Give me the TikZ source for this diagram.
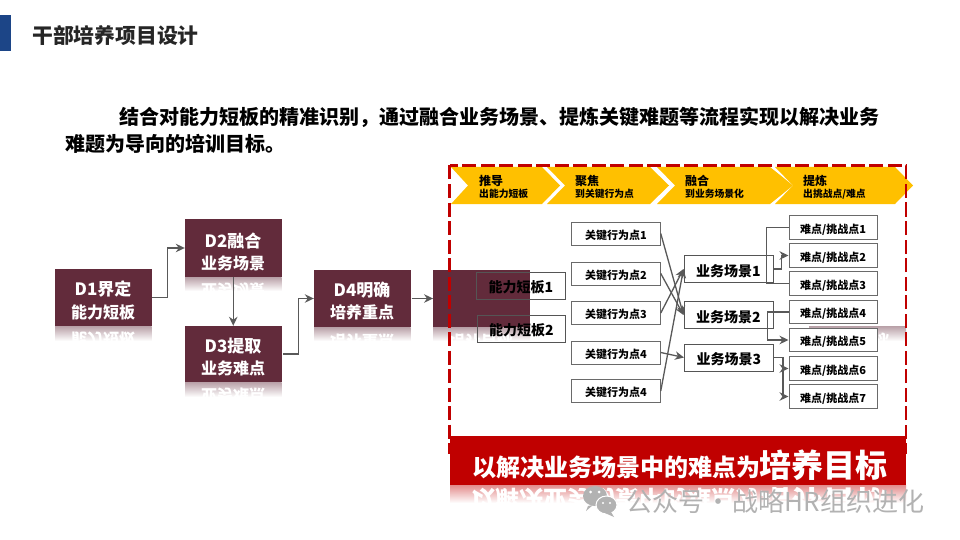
\documentclass[tikz,border=0pt]{standalone}
\usepackage{fontspec}
\setmainfont{Noto Sans CJK SC}
\usetikzlibrary{arrows.meta}
\definecolor{maroon}{HTML}{622B3B}
\definecolor{chev}{HTML}{FFC000}
\definecolor{redd}{HTML}{C00000}
\definecolor{linegray}{HTML}{595959}
\definecolor{boxgray}{HTML}{6A6A6A}
\definecolor{navy}{HTML}{1C4587}
\definecolor{wmgray}{HTML}{B2B2B2}
\newcommand{\fsz}[1]{\fontsize{#1}{#1}\selectfont}
% reflected strip: name, x0, y0, x1, y1, top colour, text centre x, text centre y, text
\newcommand{\reflstrip}[9]{%
  \begin{scope}
    \clip (#2,#3) rectangle (#4,#5);
    \shade[top color=#6, bottom color=white] (#2,#3) rectangle (#4,#5);
    \node[mirrortext] (#1) at (#7,#8) {\scalebox{1}[-1]{#9}};
  \end{scope}}
\tikzset{
  mirrortext/.style={inner sep=0pt,text=white,font=\bfseries},
  dbox/.style={fill=maroon,draw=none,inner sep=0pt,minimum width=96.5pt,text=white,align=center},
  kbox/.style={draw=boxgray,line width=1pt,fill=white,inner sep=0pt,minimum width=88.5pt,minimum height=23pt,text height=11.4pt,text depth=0pt,font=\fsz{11}\bfseries},
  nbox/.style={draw=boxgray,line width=1pt,fill=white,inner sep=0pt,minimum width=88pt,minimum height=23.5pt,text height=11.4pt,text depth=0pt,font=\fsz{11}\bfseries},
  sbox/.style={draw=boxgray!80!black,line width=1pt,fill=white,inner sep=0pt,minimum width=89pt,minimum height=27pt,text height=14.6pt,text depth=0pt,font=\fsz{14}\bfseries},
  abox/.style={draw=boxgray!80!black,line width=1pt,inner sep=0pt,minimum width=88.5pt,minimum height=27pt,text height=14.6pt,text depth=0pt,font=\fsz{14}\bfseries},
  conn/.style={draw=linegray,line width=1.3pt,-{Stealth[length=9pt,width=8.5pt]}},
  plainconn/.style={draw=linegray,line width=1.3pt},
  chevron/.style={fill=chev,draw=none},
  chevhead/.style={anchor=west,inner sep=0pt,font=\fsz{12}\bfseries},
  chevsub/.style={anchor=west,inner sep=0pt,font=\fsz{9.8}\bfseries},
  dhead/.style={inner sep=0pt,text=white,font=\fsz{17}\bfseries},
  dsub/.style={inner sep=0pt,text=white,font=\fsz{16}\bfseries},
}
\begin{document}
\begin{tikzpicture}[x=1pt,y=-1pt]
\useasboundingbox (0,0) rectangle (960,540);
\fill[white] (0,0) rectangle (960,540);

% title
\fill[navy] (0,15) rectangle (11,51);
\node[anchor=west,inner sep=0pt,font=\fsz{20.8}\bfseries,text=black!85] (title) at (32,36) {干部培养项目设计};

% paragraph
\node[anchor=west,inner sep=0pt,font=\fsz{20}\bfseries] (para1) at (119,117) {结合对能力短板的精准识别，通过融合业务场景、提炼关键难题等流程实现以解决业务};
\node[anchor=west,inner sep=0pt,font=\fsz{20}\bfseries] (para2) at (65,144) {难题为导向的培训目标。};

% reflections
\reflstrip{rd1}{55}{326}{151.5}{341}{maroon!45}{103}{340}{\fsz{16}能力短板}
\reflstrip{rd2}{185}{277}{281.5}{291}{maroon!45}{233}{291}{\fsz{16}业务场景}
\reflstrip{rd3}{185}{382}{281.5}{397}{maroon!45}{233}{396}{\fsz{16}业务难点}
\reflstrip{rd4}{314}{327}{410.5}{341}{maroon!45}{362}{342}{\fsz{16}培养重点}
\reflstrip{rd5}{433}{327}{530}{341}{maroon!45}{481}{342}{\fsz{16}培养目标}
\reflstrip{rd6}{809}{326}{906}{341}{maroon!45}{857}{341}{\fsz{16}培养目标}

% D boxes
\node[dbox,minimum height=57pt] (d1) at (103.25,297.5) {};
\node[dbox,minimum height=58pt] (d2) at (233.25,248) {};
\node[dbox,minimum height=56pt] (d3) at (233.25,354) {};
\node[dbox,minimum height=57pt] (d4) at (362.25,298.5) {};
\node[dbox,minimum height=57pt] (d5) at (481.5,298.5) {};
\node[dhead] (d1a) at (103,289) {D1界定};
\node[dsub] (d1b) at (103,312) {能力短板};
\node[dhead] (d2a) at (233,241) {D2融合};
\node[dsub] (d2b) at (233,263) {业务场景};
\node[dhead] (d3a) at (233,346) {D3提取};
\node[dsub] (d3b) at (233,368) {业务难点};
\node[dhead] (d4a) at (362,290) {D4明确};
\node[dsub] (d4b) at (362,312) {培养重点};

% D connectors
\draw[conn] (d1.east) -- ++(16,0) |- (d2.west);
\draw[conn] (d2.south) -- (d3.north);
\draw[conn] (d3.east) ++(1.5,0) -- ++(15,0) |- (d4.west);
\draw[conn] (d4.east) ++(1,0) -- (d5.west);

% chevrons
\fill[chevron] (451,167) -- (542,167) -- (560,185.5) -- (542,204) -- (451,204) -- (468,185.5) -- cycle;
\fill[chevron] (547,167) -- (650,167) -- (669,185.5) -- (650,204) -- (547,204) -- (565,185.5) -- cycle;
\fill[chevron] (657,167) -- (770,167) -- (793,185.5) -- (770,204) -- (657,204) -- (675,185.5) -- cycle;
\fill[chevron] (775,167) -- (895,167) -- (913,185.5) -- (895,204) -- (775,204) -- (793,185.5) -- cycle;

% dashed frame
\draw[redd,line width=2.4pt,dash pattern=on 14pt off 4.5pt] (449.5,165.5) rectangle (906,453);

% chevron text
\node[chevhead] (c1a) at (479,181) {推导};
\node[chevsub]  (c1b) at (479,194) {出能力短板};
\node[chevhead] (c2a) at (575,181) {聚焦};
\node[chevsub]  (c2b) at (575,194) {到关键行为点};
\node[chevhead] (c3a) at (685,181) {融合};
\node[chevsub]  (c3b) at (685,194) {到业务场景化};
\node[chevhead] (c4a) at (803,181) {提炼};
\node[chevsub]  (c4b) at (803,194) {出挑战点/难点};

% ability boxes
\node[abox] (a1) at (521,285.5) {能力短板1};
\node[abox] (a2) at (521.5,328.5) {能力短板2};

% behaviour boxes
\node[kbox] (k1) at (616,233.5) {关键行为点1};
\node[kbox] (k2) at (616,273.5) {关键行为点2};
\node[kbox] (k3) at (616,313) {关键行为点3};
\node[kbox] (k4) at (616,352.5) {关键行为点4};
\node[kbox] (k5) at (616,391) {关键行为点4};

% scene boxes
\node[sbox] (s1) at (728.5,269) {业务场景1};
\node[sbox] (s2) at (728.5,315) {业务场景2};
\node[sbox] (s3) at (729,357.5) {业务场景3};

% challenge boxes
\node[nbox] (n1) at (833,227.5) {难点/挑战点1};
\node[nbox] (n2) at (833,255.5) {难点/挑战点2};
\node[nbox] (n3) at (833,283.5) {难点/挑战点3};
\node[nbox] (n4) at (833,312) {难点/挑战点4};
\node[nbox] (n5) at (833,340) {难点/挑战点5};
\node[nbox] (n6) at (833,368.5) {难点/挑战点6};
\node[nbox] (n7) at (833,396.5) {难点/挑战点7};

% behaviour -> scene
\draw[conn] (k1.east) -- (s2.west);
\draw[conn] (k2.east) -- (s2.west);
\draw[conn] (k3.east) -- (s1.west);
\draw[conn] (k5.east) -- (s1.west);
\draw[conn] (k4.east) -- (s3.west);

% scene -> challenge
\draw[plainconn] (n1.west) -- ++(-22,0) |- (n3.west);
\draw[conn] (s1.east) -- ++(8,0) |- (n2.west);
\draw[conn] (n4.west) -- ++(-21,0) |- (n5.west);
\draw[conn] (s3.east) -- ++(9,0) |- (n6.west);
\draw[conn] (s3.east) -- ++(9,0) |- (n7.west);

% banner
\reflstrip{rb}{450}{485}{906}{503}{redd!45}{679}{503}{\fsz{24}以解决业务场景中的难点为\fsz{32}培养目标}
\fill[redd] (450,436) rectangle (906,485);
\node[inner sep=0pt,anchor=base west,text=white,font=\fsz{24}\bfseries] (b1) at (472,476) {以解决业务场景中的难点为};
\node[inner sep=0pt,anchor=base west,text=white,font=\fsz{32}\bfseries] (b2) at (759,477) {培养目标};

% watermark
\fill[wmgray] (595,496) ellipse (12pt and 10pt);
\fill[wmgray] (588,506) -- (586,511) -- (593,505) -- cycle;
\draw[white,line width=1pt,fill=wmgray] (606.5,505) ellipse (10.5pt and 9pt);
\fill[wmgray] (611,512) -- (614,517) -- (605,513) -- cycle;
\fill[white] (590.5,492) circle (1.5pt) (599,492) circle (1.5pt) (603,503) circle (1.2pt) (610,503) circle (1.2pt);
\node[anchor=west,inner sep=0pt,text=wmgray,font=\fsz{26}] (wm) at (626,502) {公众号\hspace{-4.5pt} · \hspace{-4.5pt}战略HR组织进化};
\end{tikzpicture}
\end{document}
